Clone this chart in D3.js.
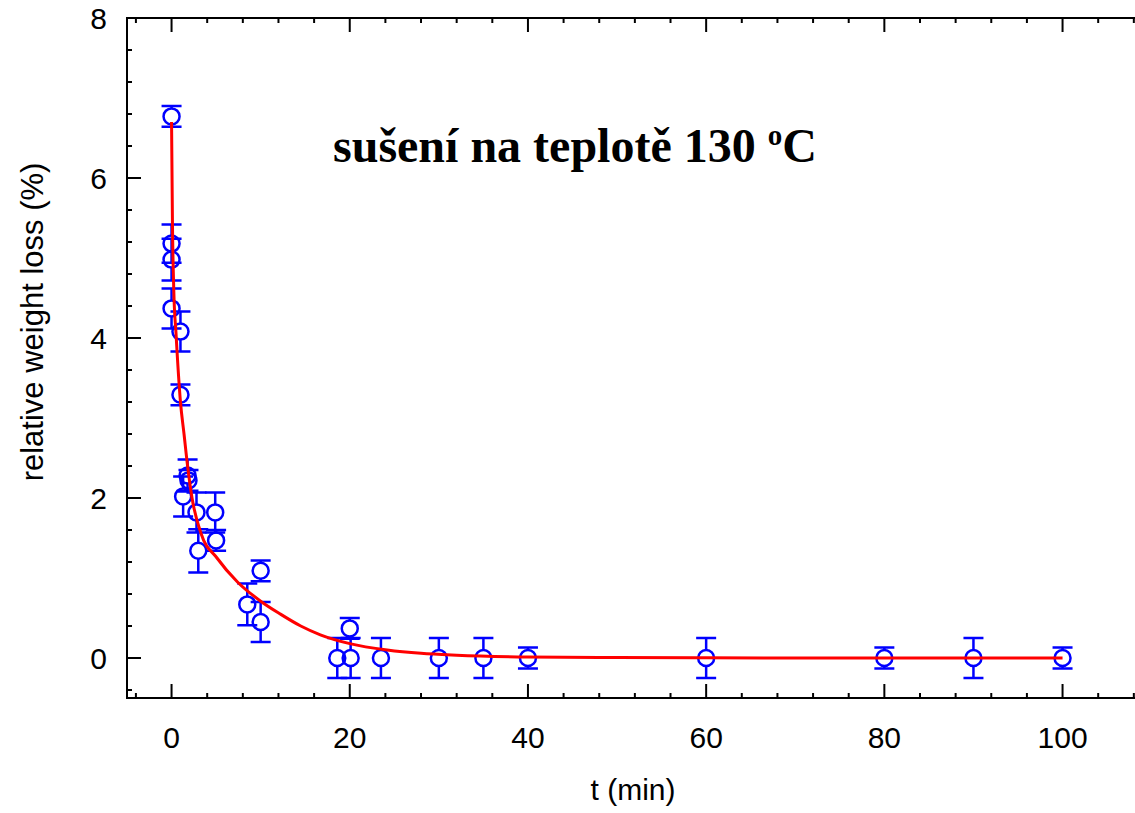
<!DOCTYPE html>
<html>
<head>
<meta charset="utf-8">
<script src="https://cdn.jsdelivr.net/npm/d3@7"></script>
<style>
  body { margin: 0; background: #fff; }
</style>
</head>
<body>
<div id="chart"></div>
<script>
// measured points: time (min), relative weight loss (%), error
var timeValues = [0, 0, 0, 0, 1, 1, 1.8, 1.9, 1.3, 2.8, 4.9, 5.0, 3.0, 10, 8.5, 10, 20, 18.6, 20.1, 23.5, 30, 35, 40, 60, 80, 90, 100];
var lossValues = [6.77, 5.18, 4.98, 4.37, 4.08, 3.29, 2.28, 2.22, 2.02, 1.82, 1.82, 1.47, 1.34, 1.09, 0.67, 0.45, 0.37, 0, 0, 0, 0, 0, 0, 0, 0, 0, 0];
var errValues = [0.13, 0.24, 0.26, 0.25, 0.25, 0.13, 0.2, 0.13, 0.25, 0.25, 0.25, 0.13, 0.27, 0.13, 0.26, 0.25, 0.13, 0.25, 0.25, 0.25, 0.25, 0.25, 0.13, 0.25, 0.13, 0.25, 0.13];

// fitted curve
var fitT = [0, 0.1, 0.25, 0.5, 1, 1.4, 1.8, 2.3, 3.3, 5.1, 7.4, 10, 12.2, 14.5, 16.7, 20, 24.2, 28, 32, 40, 50, 60, 80, 100];
var fitY = [6.7, 5.45, 4.6, 4.06, 3.2, 2.8, 2.4, 2.0, 1.56, 1.25, 0.95, 0.71, 0.55, 0.4, 0.29, 0.18, 0.1, 0.058, 0.035, 0.013, 0.005, 0.002, 0, 0];

var xTicks = [0, 20, 40, 60, 80, 100];
var yTicks = [0, 2, 4, 6, 8];

var width = 1135, height = 813;
var x0 = 127, y0 = 18, yBottom = 698;

var x = d3.scaleLinear().domain([-5, 108.5]).range([x0, 127 + 113.5 * 8.91]);
var y = d3.scaleLinear().domain([-0.5, 8]).range([yBottom, y0]);

var svg = d3.select("#chart").append("svg")
    .attr("width", width)
    .attr("height", height)
    .style("font-family", "Liberation Sans, Arial, sans-serif");

var blue = "#0000ff", red = "#ff0000";
var xRight = x(108.5);

// frame
svg.append("path")
    .attr("d", "M" + xRight + "," + y0 + "H" + x0 + "V" + yBottom + "H" + xRight)
    .attr("fill", "none")
    .attr("stroke", "#000")
    .attr("stroke-width", 2);

// x ticks (bottom and top, inward)
var xMinor = d3.range(-4, 109, 4);
xMinor.forEach(function (t) {
  var major = t % 20 === 0;
  var len = major ? 14 : 5;
  svg.append("line").attr("x1", x(t)).attr("x2", x(t))
      .attr("y1", yBottom).attr("y2", yBottom - len)
      .attr("stroke", "#000").attr("stroke-width", 2);
  svg.append("line").attr("x1", x(t)).attr("x2", x(t))
      .attr("y1", y0).attr("y2", y0 + len)
      .attr("stroke", "#000").attr("stroke-width", 2);
});

// y ticks (left, inward)
var yMinor = d3.range(-0.4, 8.01, 0.4);
yMinor.forEach(function (v) {
  var major = Math.abs(v / 2 - Math.round(v / 2)) < 1e-6;
  var len = major ? 14 : 5;
  svg.append("line").attr("x1", x0).attr("x2", x0 + len)
      .attr("y1", y(v)).attr("y2", y(v))
      .attr("stroke", "#000").attr("stroke-width", 2);
});

// tick labels
svg.append("g").selectAll("text")
    .data(xTicks)
  .enter().append("text")
    .attr("x", function (d) { return x(d); })
    .attr("y", 748)
    .attr("text-anchor", "middle")
    .attr("font-size", "30px")
    .text(function (d) { return d; });

svg.append("g").selectAll("text")
    .data(yTicks)
  .enter().append("text")
    .attr("x", 107)
    .attr("y", function (d) { return y(d) + 11; })
    .attr("text-anchor", "end")
    .attr("font-size", "30px")
    .text(function (d) { return d; });

// axis titles
svg.append("text")
    .attr("x", 633)
    .attr("y", 800)
    .attr("text-anchor", "middle")
    .attr("font-size", "30px")
    .text("t (min)");

svg.append("text")
    .attr("transform", "translate(43,322) rotate(-90)")
    .attr("text-anchor", "middle")
    .attr("font-size", "31px")
    .text("relative weight loss (%)");

// title
var title = svg.append("text")
    .attr("x", 333)
    .attr("y", 162)
    .attr("font-family", "Liberation Serif, Times New Roman, serif")
    .attr("font-weight", "bold")
    .attr("font-size", "48px");
title.append("tspan").text("sušení na teplotě 130 ");
title.append("tspan").attr("font-size", "29px").attr("dy", -17).text("o");
title.append("tspan").attr("dy", 17).text("C");

// error bars and markers
var pts = timeValues.map(function (t, i) {
  return {t: t, v: lossValues[i], e: errValues[i]};
});
var r = 8, cap = 10;

var eb = svg.append("g").selectAll("g")
    .data(pts)
  .enter().append("g");

eb.append("path")
    .attr("d", function (d) {
      var cx = x(d.t), cy = y(d.v), yt = y(d.v + d.e), yb = y(d.v - d.e);
      var s = "M" + (cx - cap) + "," + yt + "H" + (cx + cap) +
              "M" + (cx - cap) + "," + yb + "H" + (cx + cap);
      if (cy - yt > r) s += "M" + cx + "," + yt + "V" + (cy - r);
      if (yb - cy > r) s += "M" + cx + "," + yb + "V" + (cy + r);
      return s;
    })
    .attr("fill", "none")
    .attr("stroke", blue)
    .attr("stroke-width", 2.5);

eb.append("circle")
    .attr("cx", function (d) { return x(d.t); })
    .attr("cy", function (d) { return y(d.v); })
    .attr("r", r)
    .attr("fill", "none")
    .attr("stroke", blue)
    .attr("stroke-width", 2.5);

// fitted curve
var line = d3.line()
    .x(function (d, i) { return x(fitT[i]); })
    .y(function (d) { return y(d); })
    .curve(d3.curveMonotoneX);

svg.append("path")
    .attr("d", line(fitY))
    .attr("fill", "none")
    .attr("stroke", red)
    .attr("stroke-width", 3);
</script>
</body>
</html>
